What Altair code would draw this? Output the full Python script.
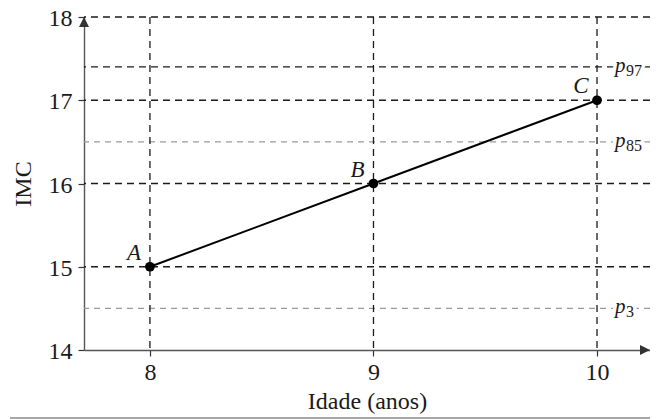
import altair as alt
import pandas as pd

# ---- data ----
ages = [8, 9, 10]
imc = [15, 16, 17]
point_names = ["A", "B", "C"]
pct_subs = ["97", "85", "3"]
pct_values = [17.4, 16.5, 14.5]
dark_h_lines = [15, 16, 17, 18, 17.4]
light_h_lines = [16.5, 14.5]
x_ticks = [8, 9, 10]
y_ticks = [14, 15, 16, 17, 18]
x_domain = [7.705, 10.237]
y_domain = [14, 18]

FONT = "Liberation Serif"
INK = "#1a1a1a"

pts = pd.DataFrame({"idade": ages, "imc": imc, "nome": point_names})
pct = pd.DataFrame({"imc": pct_values, "sub": pct_subs, "p": ["p"] * len(pct_subs),
                    "idade": [x_ticks[-1]] * len(pct_subs)})
dark_df = pd.DataFrame({"imc": dark_h_lines})
light_df = pd.DataFrame({"imc": light_h_lines})
vert_df = pd.DataFrame({"idade": x_ticks})
arrow_up = pd.DataFrame({"idade": [x_domain[0]], "imc": [y_domain[1]]})
arrow_right = pd.DataFrame({"idade": [x_domain[1]], "imc": [y_domain[0]]})

xs = alt.Scale(domain=x_domain, nice=False, zero=False)
ys = alt.Scale(domain=y_domain, nice=False, zero=False)

X_axis = alt.Axis(values=x_ticks, title="Idade (anos)", grid=False, format="d",
                  labelFont=FONT, labelFontSize=24, labelColor=INK, labelPadding=4,
                  tickSize=6, tickColor="#333", tickWidth=1.2,
                  domainColor="#555", domainWidth=1.4,
                  titleFont=FONT, titleFontSize=24, titleFontWeight="normal",
                  titleColor=INK, titlePadding=5)
Y_axis = alt.Axis(values=y_ticks, title="IMC", grid=False, format="d",
                  labelFont=FONT, labelFontSize=24, labelColor=INK, labelPadding=6,
                  labelOffset=1.5,
                  tickSize=6, tickColor="#333", tickWidth=1.2,
                  domainColor="#555", domainWidth=1.4,
                  titleFont=FONT, titleFontSize=24, titleFontWeight="normal",
                  titleColor=INK, titlePadding=13)

xq = lambda: alt.X("idade:Q", scale=xs, axis=X_axis)
yq = lambda: alt.Y("imc:Q", scale=ys, axis=Y_axis)

light = alt.Chart(light_df).mark_rule(color="#9a9a9a", strokeWidth=1.2, strokeDash=[6, 5]).encode(y=yq())
dark = alt.Chart(dark_df).mark_rule(color=INK, strokeWidth=1.3, strokeDash=[7, 5]).encode(y=yq())
vert = alt.Chart(vert_df).mark_rule(color=INK, strokeWidth=1.3, strokeDash=[7, 5]).encode(x=xq())

line = alt.Chart(pts).mark_line(color="black", strokeWidth=2).encode(x=xq(), y=yq())
dots = alt.Chart(pts).mark_circle(color="black", size=95, opacity=1).encode(x=xq(), y=yq())
letters = alt.Chart(pts).mark_text(font=FONT, fontSize=23, fontStyle="italic", color=INK,
                                   align="center", baseline="middle", dx=-16, dy=-14
                                   ).encode(x=xq(), y=yq(), text="nome:N")

halo_p = alt.Chart(pct).mark_text(font=FONT, fontSize=21, fontStyle="italic", color="white",
                                  stroke="white", strokeWidth=7, align="left",
                                  baseline="alphabetic", dx=18, dy=5).encode(x=xq(), y=yq(), text="p:N")
halo_s = alt.Chart(pct).mark_text(font=FONT, fontSize=16, color="white",
                                  stroke="white", strokeWidth=7, align="left",
                                  baseline="alphabetic", dx=29, dy=9).encode(x=xq(), y=yq(), text="sub:N")
txt_p = alt.Chart(pct).mark_text(font=FONT, fontSize=21, fontStyle="italic", color=INK,
                                 align="left", baseline="alphabetic", dx=18, dy=5
                                 ).encode(x=xq(), y=yq(), text="p:N")
txt_s = alt.Chart(pct).mark_text(font=FONT, fontSize=16, color=INK,
                                 align="left", baseline="alphabetic", dx=29, dy=9
                                 ).encode(x=xq(), y=yq(), text="sub:N")

up = alt.Chart(arrow_up).mark_point(shape="M0,0L-0.5,1L0.5,1Z", filled=True, size=400,
                                    color="#333", opacity=1).encode(x=xq(), y=yq())
right = alt.Chart(arrow_right).mark_point(shape="M0,0L-1,-0.5L-1,0.5Z", filled=True, size=400,
                                          color="#333", opacity=1).encode(x=xq(), y=yq())

# page separator line under the figure (decoration, not data)
sep = alt.Chart(pd.DataFrame({"k": [0]})).mark_rule(color="#8a8a8a", strokeWidth=1.5).encode(
    x=alt.value(-74), x2=alt.value(566), y=alt.value(401))

chart = alt.layer(light, dark, vert, line, dots, letters, halo_p, halo_s, txt_p, txt_s, up, right, sep
                  ).properties(
    width=566, height=333,
    autosize=alt.AutoSizeParams(type="none"),
    padding={"left": 76, "top": 9, "right": 0, "bottom": 70},
    background="white",
).configure_view(stroke=None)

chart.save("out.html", embed_options={"renderer": "svg", "actions": False})
